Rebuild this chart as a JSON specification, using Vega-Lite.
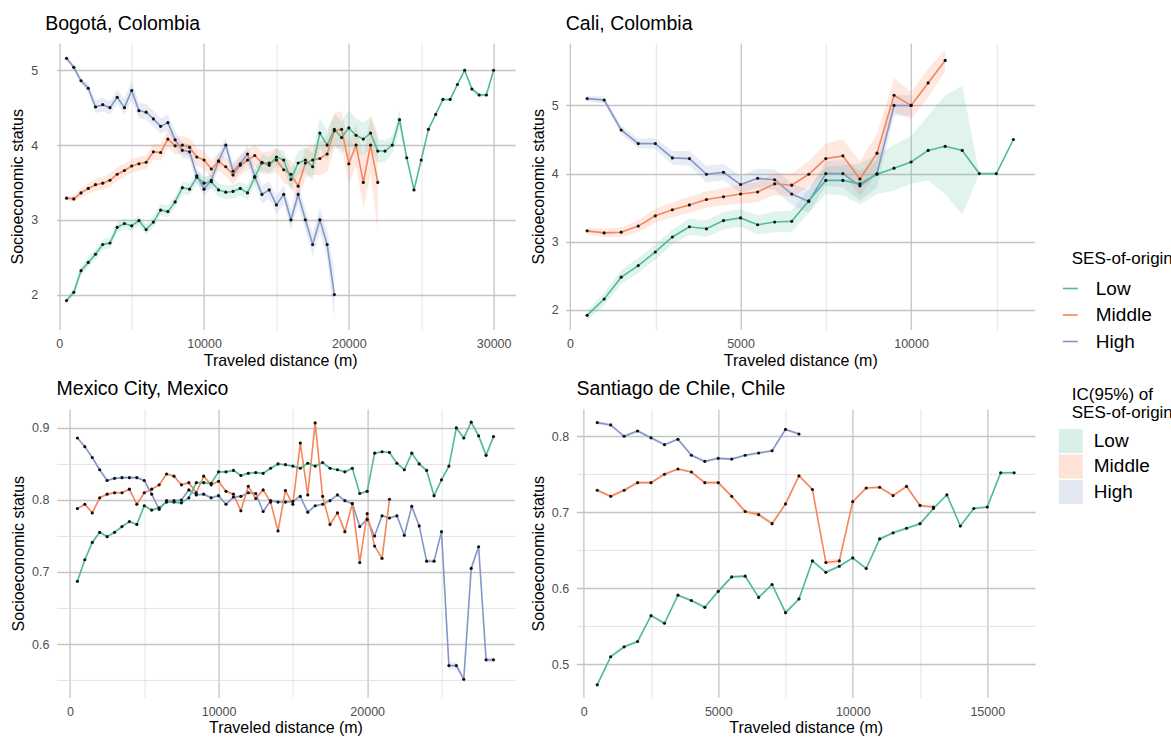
{
"$schema": "https://vega.github.io/schema/vega-lite/v6.json",
"padding": {"left": 9.6, "top": 13, "right": 0, "bottom": 0},
"background": "white",
"config": {
 "view": {"stroke": null},
 "font": "Liberation Sans",
 "axis": {"domain": false, "ticks": false, "labelFont": "Liberation Sans", "labelFontSize": 12.5, "labelColor": "#4d4d4d", "titleFont": "Liberation Sans", "titleFontSize": 16, "titleFontWeight": "normal", "titleColor": "black", "labelFlush": false, "labelOverlap": false},
 "axisX": {"labelPadding": 8, "titlePadding": 2},
 "axisY": {"labelPadding": 7.7, "titlePadding": 5},
 "title": {"anchor": "start", "frame": "group", "fontSize": 19.5, "fontWeight": "normal", "font": "Liberation Sans", "color": "black", "offset": 9},
 "legend": {"titleFont": "Liberation Sans", "titleFontSize": 17, "titleFontWeight": "normal", "titleColor": "black", "labelFont": "Liberation Sans", "labelFontSize": 19, "labelColor": "black"}
},
"datasets": {
"bog": [
{"s":"High","x":500,"y":5.16,"lo":5.13,"hi":5.19},
{"s":"High","x":1000,"y":5.04,"lo":5.00,"hi":5.08},
{"s":"High","x":1500,"y":4.86,"lo":4.82,"hi":4.90},
{"s":"High","x":2000,"y":4.76,"lo":4.70,"hi":4.82},
{"s":"High","x":2500,"y":4.51,"lo":4.43,"hi":4.60},
{"s":"High","x":3000,"y":4.54,"lo":4.45,"hi":4.63},
{"s":"High","x":3500,"y":4.50,"lo":4.41,"hi":4.59},
{"s":"High","x":4000,"y":4.64,"lo":4.55,"hi":4.74},
{"s":"High","x":4500,"y":4.50,"lo":4.40,"hi":4.62},
{"s":"High","x":5000,"y":4.73,"lo":4.60,"hi":4.86},
{"s":"High","x":5500,"y":4.46,"lo":4.36,"hi":4.57},
{"s":"High","x":6000,"y":4.44,"lo":4.34,"hi":4.55},
{"s":"High","x":6500,"y":4.35,"lo":4.25,"hi":4.46},
{"s":"High","x":7000,"y":4.25,"lo":4.15,"hi":4.36},
{"s":"High","x":7500,"y":4.30,"lo":4.19,"hi":4.41},
{"s":"High","x":8000,"y":4.07,"lo":3.97,"hi":4.18},
{"s":"High","x":8500,"y":3.93,"lo":3.83,"hi":4.03},
{"s":"High","x":9000,"y":3.91,"lo":3.81,"hi":4.01},
{"s":"High","x":9500,"y":3.59,"lo":3.49,"hi":3.70},
{"s":"High","x":10000,"y":3.41,"lo":3.32,"hi":3.51},
{"s":"High","x":10500,"y":3.53,"lo":3.43,"hi":3.63},
{"s":"High","x":11000,"y":3.79,"lo":3.68,"hi":3.90},
{"s":"High","x":11500,"y":4.00,"lo":3.88,"hi":4.10},
{"s":"High","x":12000,"y":3.65,"lo":3.54,"hi":3.76},
{"s":"High","x":12500,"y":3.75,"lo":3.64,"hi":3.86},
{"s":"High","x":13000,"y":3.88,"lo":3.76,"hi":3.99},
{"s":"High","x":13500,"y":3.58,"lo":3.47,"hi":3.70},
{"s":"High","x":14000,"y":3.34,"lo":3.22,"hi":3.46},
{"s":"High","x":14500,"y":3.40,"lo":3.28,"hi":3.52},
{"s":"High","x":15000,"y":3.20,"lo":3.08,"hi":3.32},
{"s":"High","x":15500,"y":3.34,"lo":3.21,"hi":3.47},
{"s":"High","x":16000,"y":3.00,"lo":2.87,"hi":3.13},
{"s":"High","x":16500,"y":3.34,"lo":3.20,"hi":3.48},
{"s":"High","x":17000,"y":3.00,"lo":2.86,"hi":3.14},
{"s":"High","x":17500,"y":2.67,"lo":2.52,"hi":2.82},
{"s":"High","x":18000,"y":3.00,"lo":2.84,"hi":3.16},
{"s":"High","x":18500,"y":2.67,"lo":2.48,"hi":2.86},
{"s":"High","x":19000,"y":2.00,"lo":1.68,"hi":2.32},
{"s":"Middle","x":500,"y":3.29,"lo":3.26,"hi":3.32},
{"s":"Middle","x":1000,"y":3.28,"lo":3.24,"hi":3.32},
{"s":"Middle","x":1500,"y":3.36,"lo":3.30,"hi":3.42},
{"s":"Middle","x":2000,"y":3.42,"lo":3.35,"hi":3.49},
{"s":"Middle","x":2500,"y":3.47,"lo":3.39,"hi":3.55},
{"s":"Middle","x":3000,"y":3.49,"lo":3.40,"hi":3.58},
{"s":"Middle","x":3500,"y":3.53,"lo":3.44,"hi":3.62},
{"s":"Middle","x":4000,"y":3.61,"lo":3.52,"hi":3.70},
{"s":"Middle","x":4500,"y":3.66,"lo":3.57,"hi":3.75},
{"s":"Middle","x":5000,"y":3.72,"lo":3.63,"hi":3.81},
{"s":"Middle","x":5500,"y":3.75,"lo":3.66,"hi":3.84},
{"s":"Middle","x":6000,"y":3.77,"lo":3.68,"hi":3.86},
{"s":"Middle","x":6500,"y":3.91,"lo":3.81,"hi":4.01},
{"s":"Middle","x":7000,"y":3.90,"lo":3.79,"hi":4.01},
{"s":"Middle","x":7500,"y":4.08,"lo":3.96,"hi":4.20},
{"s":"Middle","x":8000,"y":3.99,"lo":3.87,"hi":4.11},
{"s":"Middle","x":8500,"y":4.00,"lo":3.88,"hi":4.12},
{"s":"Middle","x":9000,"y":3.97,"lo":3.85,"hi":4.09},
{"s":"Middle","x":9500,"y":3.84,"lo":3.72,"hi":3.96},
{"s":"Middle","x":10000,"y":3.80,"lo":3.68,"hi":3.92},
{"s":"Middle","x":10500,"y":3.68,"lo":3.56,"hi":3.80},
{"s":"Middle","x":11000,"y":3.78,"lo":3.66,"hi":3.90},
{"s":"Middle","x":11500,"y":3.71,"lo":3.58,"hi":3.84},
{"s":"Middle","x":12000,"y":3.60,"lo":3.47,"hi":3.73},
{"s":"Middle","x":12500,"y":3.73,"lo":3.60,"hi":3.86},
{"s":"Middle","x":13000,"y":3.80,"lo":3.66,"hi":3.94},
{"s":"Middle","x":13500,"y":3.86,"lo":3.72,"hi":4.00},
{"s":"Middle","x":14000,"y":3.76,"lo":3.61,"hi":3.91},
{"s":"Middle","x":14500,"y":3.76,"lo":3.61,"hi":3.91},
{"s":"Middle","x":15000,"y":3.80,"lo":3.64,"hi":3.96},
{"s":"Middle","x":15500,"y":3.67,"lo":3.50,"hi":3.84},
{"s":"Middle","x":16000,"y":3.61,"lo":3.43,"hi":3.79},
{"s":"Middle","x":16500,"y":3.45,"lo":3.25,"hi":3.65},
{"s":"Middle","x":17000,"y":3.76,"lo":3.56,"hi":3.96},
{"s":"Middle","x":17500,"y":3.80,"lo":3.60,"hi":4.00},
{"s":"Middle","x":18000,"y":3.82,"lo":3.60,"hi":4.04},
{"s":"Middle","x":18500,"y":3.88,"lo":3.64,"hi":4.12},
{"s":"Middle","x":19000,"y":4.19,"lo":3.95,"hi":4.43},
{"s":"Middle","x":19500,"y":4.21,"lo":3.97,"hi":4.45},
{"s":"Middle","x":20000,"y":3.75,"lo":3.48,"hi":4.02},
{"s":"Middle","x":20500,"y":4.00,"lo":3.72,"hi":4.28},
{"s":"Middle","x":21000,"y":3.50,"lo":3.15,"hi":3.85},
{"s":"Middle","x":21500,"y":4.00,"lo":3.60,"hi":4.40},
{"s":"Middle","x":22000,"y":3.50,"lo":2.85,"hi":4.15},
{"s":"Low","x":500,"y":1.92,"lo":1.88,"hi":1.96},
{"s":"Low","x":1000,"y":2.03,"lo":1.98,"hi":2.08},
{"s":"Low","x":1500,"y":2.32,"lo":2.26,"hi":2.38},
{"s":"Low","x":2000,"y":2.43,"lo":2.37,"hi":2.50},
{"s":"Low","x":2500,"y":2.54,"lo":2.47,"hi":2.61},
{"s":"Low","x":3000,"y":2.67,"lo":2.60,"hi":2.74},
{"s":"Low","x":3500,"y":2.69,"lo":2.62,"hi":2.76},
{"s":"Low","x":4000,"y":2.90,"lo":2.83,"hi":2.97},
{"s":"Low","x":4500,"y":2.95,"lo":2.88,"hi":3.02},
{"s":"Low","x":5000,"y":2.92,"lo":2.85,"hi":2.99},
{"s":"Low","x":5500,"y":2.99,"lo":2.92,"hi":3.06},
{"s":"Low","x":6000,"y":2.87,"lo":2.80,"hi":2.94},
{"s":"Low","x":6500,"y":2.97,"lo":2.90,"hi":3.04},
{"s":"Low","x":7000,"y":3.13,"lo":3.06,"hi":3.21},
{"s":"Low","x":7500,"y":3.11,"lo":3.03,"hi":3.19},
{"s":"Low","x":8000,"y":3.24,"lo":3.16,"hi":3.32},
{"s":"Low","x":8500,"y":3.43,"lo":3.35,"hi":3.51},
{"s":"Low","x":9000,"y":3.41,"lo":3.33,"hi":3.49},
{"s":"Low","x":9500,"y":3.57,"lo":3.48,"hi":3.66},
{"s":"Low","x":10000,"y":3.49,"lo":3.40,"hi":3.58},
{"s":"Low","x":10500,"y":3.51,"lo":3.42,"hi":3.60},
{"s":"Low","x":11000,"y":3.40,"lo":3.31,"hi":3.49},
{"s":"Low","x":11500,"y":3.37,"lo":3.28,"hi":3.46},
{"s":"Low","x":12000,"y":3.38,"lo":3.29,"hi":3.47},
{"s":"Low","x":12500,"y":3.42,"lo":3.33,"hi":3.51},
{"s":"Low","x":13000,"y":3.36,"lo":3.27,"hi":3.46},
{"s":"Low","x":13500,"y":3.57,"lo":3.47,"hi":3.67},
{"s":"Low","x":14000,"y":3.77,"lo":3.66,"hi":3.88},
{"s":"Low","x":14500,"y":3.73,"lo":3.62,"hi":3.84},
{"s":"Low","x":15000,"y":3.84,"lo":3.72,"hi":3.96},
{"s":"Low","x":15500,"y":3.80,"lo":3.67,"hi":3.93},
{"s":"Low","x":16000,"y":3.54,"lo":3.40,"hi":3.68},
{"s":"Low","x":16500,"y":3.76,"lo":3.60,"hi":3.92},
{"s":"Low","x":17000,"y":3.80,"lo":3.63,"hi":3.97},
{"s":"Low","x":17500,"y":3.71,"lo":3.53,"hi":3.89},
{"s":"Low","x":18000,"y":4.16,"lo":3.96,"hi":4.36},
{"s":"Low","x":18500,"y":4.00,"lo":3.80,"hi":4.20},
{"s":"Low","x":19000,"y":4.21,"lo":4.00,"hi":4.42},
{"s":"Low","x":19500,"y":4.10,"lo":3.88,"hi":4.32},
{"s":"Low","x":20000,"y":4.23,"lo":4.00,"hi":4.46},
{"s":"Low","x":20500,"y":4.13,"lo":3.90,"hi":4.36},
{"s":"Low","x":21000,"y":4.08,"lo":3.86,"hi":4.30},
{"s":"Low","x":21500,"y":4.16,"lo":3.94,"hi":4.38},
{"s":"Low","x":22000,"y":3.92,"lo":3.76,"hi":4.08},
{"s":"Low","x":22500,"y":3.92,"lo":3.78,"hi":4.06},
{"s":"Low","x":23000,"y":4.00,"lo":3.88,"hi":4.12},
{"s":"Low","x":23500,"y":4.34,"lo":4.22,"hi":4.46},
{"s":"Low","x":24000,"y":3.83,"lo":3.80,"hi":3.86},
{"s":"Low","x":24500,"y":3.40,"lo":3.38,"hi":3.42},
{"s":"Low","x":25000,"y":3.80,"lo":3.78,"hi":3.82},
{"s":"Low","x":25500,"y":4.21,"lo":4.19,"hi":4.23},
{"s":"Low","x":26000,"y":4.41,"lo":4.39,"hi":4.43},
{"s":"Low","x":26500,"y":4.61,"lo":4.59,"hi":4.63},
{"s":"Low","x":27000,"y":4.61,"lo":4.59,"hi":4.63},
{"s":"Low","x":27500,"y":4.81,"lo":4.79,"hi":4.83},
{"s":"Low","x":28000,"y":5.00,"lo":4.98,"hi":5.02},
{"s":"Low","x":28500,"y":4.75,"lo":4.72,"hi":4.78},
{"s":"Low","x":29000,"y":4.67,"lo":4.64,"hi":4.70},
{"s":"Low","x":29500,"y":4.67,"lo":4.64,"hi":4.70},
{"s":"Low","x":30000,"y":5.00,"lo":4.98,"hi":5.02}
],
"cal": [
{"s":"High","x":500,"y":5.10,"lo":5.06,"hi":5.14},
{"s":"High","x":1000,"y":5.08,"lo":5.03,"hi":5.13},
{"s":"High","x":1500,"y":4.64,"lo":4.58,"hi":4.70},
{"s":"High","x":2000,"y":4.44,"lo":4.37,"hi":4.51},
{"s":"High","x":2500,"y":4.44,"lo":4.36,"hi":4.52},
{"s":"High","x":3000,"y":4.23,"lo":4.13,"hi":4.33},
{"s":"High","x":3500,"y":4.22,"lo":4.11,"hi":4.33},
{"s":"High","x":4000,"y":3.99,"lo":3.87,"hi":4.11},
{"s":"High","x":4500,"y":4.02,"lo":3.90,"hi":4.14},
{"s":"High","x":5000,"y":3.84,"lo":3.71,"hi":3.97},
{"s":"High","x":5500,"y":3.93,"lo":3.79,"hi":4.07},
{"s":"High","x":6000,"y":3.91,"lo":3.76,"hi":4.06},
{"s":"High","x":6500,"y":3.70,"lo":3.54,"hi":3.86},
{"s":"High","x":7000,"y":3.59,"lo":3.42,"hi":3.76},
{"s":"High","x":7500,"y":4.00,"lo":3.82,"hi":4.18},
{"s":"High","x":8000,"y":4.00,"lo":3.80,"hi":4.20},
{"s":"High","x":8500,"y":3.82,"lo":3.60,"hi":4.04},
{"s":"High","x":9000,"y":4.00,"lo":3.80,"hi":4.20},
{"s":"High","x":9500,"y":5.00,"lo":4.85,"hi":5.15},
{"s":"High","x":10000,"y":5.00,"lo":4.85,"hi":5.15},
{"s":"Middle","x":500,"y":3.16,"lo":3.11,"hi":3.21},
{"s":"Middle","x":1000,"y":3.13,"lo":3.07,"hi":3.19},
{"s":"Middle","x":1500,"y":3.14,"lo":3.07,"hi":3.21},
{"s":"Middle","x":2000,"y":3.23,"lo":3.14,"hi":3.32},
{"s":"Middle","x":2500,"y":3.38,"lo":3.28,"hi":3.48},
{"s":"Middle","x":3000,"y":3.47,"lo":3.36,"hi":3.58},
{"s":"Middle","x":3500,"y":3.54,"lo":3.42,"hi":3.66},
{"s":"Middle","x":4000,"y":3.62,"lo":3.50,"hi":3.74},
{"s":"Middle","x":4500,"y":3.66,"lo":3.53,"hi":3.79},
{"s":"Middle","x":5000,"y":3.70,"lo":3.56,"hi":3.84},
{"s":"Middle","x":5500,"y":3.73,"lo":3.58,"hi":3.88},
{"s":"Middle","x":6000,"y":3.85,"lo":3.69,"hi":4.01},
{"s":"Middle","x":6500,"y":3.83,"lo":3.66,"hi":4.00},
{"s":"Middle","x":7000,"y":3.99,"lo":3.80,"hi":4.18},
{"s":"Middle","x":7500,"y":4.22,"lo":4.00,"hi":4.44},
{"s":"Middle","x":8000,"y":4.26,"lo":4.02,"hi":4.50},
{"s":"Middle","x":8500,"y":3.92,"lo":3.66,"hi":4.18},
{"s":"Middle","x":9000,"y":4.30,"lo":4.02,"hi":4.58},
{"s":"Middle","x":9500,"y":5.15,"lo":4.90,"hi":5.40},
{"s":"Middle","x":10000,"y":5.00,"lo":4.80,"hi":5.20},
{"s":"Middle","x":10500,"y":5.33,"lo":5.12,"hi":5.54},
{"s":"Middle","x":11000,"y":5.66,"lo":5.50,"hi":5.82},
{"s":"Low","x":500,"y":1.92,"lo":1.85,"hi":1.99},
{"s":"Low","x":1000,"y":2.16,"lo":2.07,"hi":2.25},
{"s":"Low","x":1500,"y":2.48,"lo":2.38,"hi":2.58},
{"s":"Low","x":2000,"y":2.65,"lo":2.54,"hi":2.76},
{"s":"Low","x":2500,"y":2.85,"lo":2.74,"hi":2.96},
{"s":"Low","x":3000,"y":3.07,"lo":2.96,"hi":3.18},
{"s":"Low","x":3500,"y":3.22,"lo":3.10,"hi":3.34},
{"s":"Low","x":4000,"y":3.19,"lo":3.07,"hi":3.31},
{"s":"Low","x":4500,"y":3.31,"lo":3.18,"hi":3.44},
{"s":"Low","x":5000,"y":3.35,"lo":3.22,"hi":3.48},
{"s":"Low","x":5500,"y":3.25,"lo":3.11,"hi":3.39},
{"s":"Low","x":6000,"y":3.29,"lo":3.14,"hi":3.44},
{"s":"Low","x":6500,"y":3.30,"lo":3.14,"hi":3.46},
{"s":"Low","x":7000,"y":3.60,"lo":3.42,"hi":3.78},
{"s":"Low","x":7500,"y":3.90,"lo":3.70,"hi":4.10},
{"s":"Low","x":8000,"y":3.90,"lo":3.68,"hi":4.12},
{"s":"Low","x":8500,"y":3.85,"lo":3.55,"hi":4.15},
{"s":"Low","x":9000,"y":3.99,"lo":3.70,"hi":4.28},
{"s":"Low","x":9500,"y":4.08,"lo":3.75,"hi":4.42},
{"s":"Low","x":10000,"y":4.17,"lo":3.85,"hi":4.55},
{"s":"Low","x":10500,"y":4.34,"lo":3.90,"hi":4.85},
{"s":"Low","x":11000,"y":4.40,"lo":3.70,"hi":5.15},
{"s":"Low","x":11500,"y":4.34,"lo":3.40,"hi":5.28},
{"s":"Low","x":12000,"y":4.00,"lo":4.00,"hi":4.00},
{"s":"Low","x":12500,"y":4.00,"lo":4.00,"hi":4.00},
{"s":"Low","x":13000,"y":4.50,"lo":4.50,"hi":4.50}
],
"mex": [
{"s":"High","x":500,"y":0.886,"lo":0.884,"hi":0.888},
{"s":"High","x":1000,"y":0.874,"lo":0.872,"hi":0.876},
{"s":"High","x":1500,"y":0.859,"lo":0.857,"hi":0.861},
{"s":"High","x":2000,"y":0.842,"lo":0.840,"hi":0.844},
{"s":"High","x":2500,"y":0.827,"lo":0.825,"hi":0.829},
{"s":"High","x":3000,"y":0.830,"lo":0.828,"hi":0.832},
{"s":"High","x":3500,"y":0.831,"lo":0.829,"hi":0.833},
{"s":"High","x":4000,"y":0.831,"lo":0.829,"hi":0.833},
{"s":"High","x":4500,"y":0.831,"lo":0.829,"hi":0.833},
{"s":"High","x":5000,"y":0.827,"lo":0.825,"hi":0.829},
{"s":"High","x":5500,"y":0.808,"lo":0.806,"hi":0.810},
{"s":"High","x":6000,"y":0.787,"lo":0.785,"hi":0.789},
{"s":"High","x":6500,"y":0.799,"lo":0.797,"hi":0.801},
{"s":"High","x":7000,"y":0.799,"lo":0.797,"hi":0.801},
{"s":"High","x":7500,"y":0.800,"lo":0.798,"hi":0.802},
{"s":"High","x":8000,"y":0.814,"lo":0.812,"hi":0.816},
{"s":"High","x":8500,"y":0.807,"lo":0.805,"hi":0.809},
{"s":"High","x":9000,"y":0.808,"lo":0.806,"hi":0.810},
{"s":"High","x":9500,"y":0.803,"lo":0.801,"hi":0.805},
{"s":"High","x":10000,"y":0.806,"lo":0.804,"hi":0.808},
{"s":"High","x":10500,"y":0.794,"lo":0.792,"hi":0.796},
{"s":"High","x":11000,"y":0.804,"lo":0.802,"hi":0.806},
{"s":"High","x":11500,"y":0.805,"lo":0.803,"hi":0.807},
{"s":"High","x":12000,"y":0.810,"lo":0.808,"hi":0.812},
{"s":"High","x":12500,"y":0.809,"lo":0.807,"hi":0.811},
{"s":"High","x":13000,"y":0.784,"lo":0.782,"hi":0.786},
{"s":"High","x":13500,"y":0.799,"lo":0.797,"hi":0.801},
{"s":"High","x":14000,"y":0.797,"lo":0.795,"hi":0.799},
{"s":"High","x":14500,"y":0.797,"lo":0.795,"hi":0.799},
{"s":"High","x":15000,"y":0.798,"lo":0.796,"hi":0.800},
{"s":"High","x":15500,"y":0.805,"lo":0.803,"hi":0.807},
{"s":"High","x":16000,"y":0.783,"lo":0.781,"hi":0.785},
{"s":"High","x":16500,"y":0.792,"lo":0.790,"hi":0.794},
{"s":"High","x":17000,"y":0.794,"lo":0.792,"hi":0.796},
{"s":"High","x":17500,"y":0.799,"lo":0.797,"hi":0.801},
{"s":"High","x":18000,"y":0.807,"lo":0.805,"hi":0.809},
{"s":"High","x":18500,"y":0.799,"lo":0.797,"hi":0.801},
{"s":"High","x":19000,"y":0.795,"lo":0.793,"hi":0.797},
{"s":"High","x":19500,"y":0.763,"lo":0.761,"hi":0.765},
{"s":"High","x":20000,"y":0.773,"lo":0.771,"hi":0.775},
{"s":"High","x":20500,"y":0.750,"lo":0.748,"hi":0.752},
{"s":"High","x":21000,"y":0.778,"lo":0.776,"hi":0.780},
{"s":"High","x":21500,"y":0.775,"lo":0.773,"hi":0.777},
{"s":"High","x":22000,"y":0.778,"lo":0.776,"hi":0.780},
{"s":"High","x":22500,"y":0.751,"lo":0.749,"hi":0.753},
{"s":"High","x":23000,"y":0.791,"lo":0.789,"hi":0.793},
{"s":"High","x":23500,"y":0.764,"lo":0.762,"hi":0.766},
{"s":"High","x":24000,"y":0.715,"lo":0.712,"hi":0.718},
{"s":"High","x":24500,"y":0.715,"lo":0.712,"hi":0.718},
{"s":"High","x":25000,"y":0.756,"lo":0.753,"hi":0.759},
{"s":"High","x":25500,"y":0.570,"lo":0.565,"hi":0.575},
{"s":"High","x":26000,"y":0.570,"lo":0.565,"hi":0.575},
{"s":"High","x":26500,"y":0.551,"lo":0.547,"hi":0.555},
{"s":"High","x":27000,"y":0.705,"lo":0.701,"hi":0.709},
{"s":"High","x":27500,"y":0.735,"lo":0.731,"hi":0.739},
{"s":"High","x":28000,"y":0.578,"lo":0.574,"hi":0.582},
{"s":"High","x":28500,"y":0.578,"lo":0.574,"hi":0.582},
{"s":"Middle","x":500,"y":0.788,"lo":0.786,"hi":0.790},
{"s":"Middle","x":1000,"y":0.794,"lo":0.792,"hi":0.796},
{"s":"Middle","x":1500,"y":0.782,"lo":0.780,"hi":0.784},
{"s":"Middle","x":2000,"y":0.803,"lo":0.801,"hi":0.805},
{"s":"Middle","x":2500,"y":0.808,"lo":0.806,"hi":0.810},
{"s":"Middle","x":3000,"y":0.810,"lo":0.808,"hi":0.812},
{"s":"Middle","x":3500,"y":0.810,"lo":0.808,"hi":0.812},
{"s":"Middle","x":4000,"y":0.815,"lo":0.813,"hi":0.817},
{"s":"Middle","x":4500,"y":0.794,"lo":0.792,"hi":0.796},
{"s":"Middle","x":5000,"y":0.810,"lo":0.808,"hi":0.812},
{"s":"Middle","x":5500,"y":0.815,"lo":0.813,"hi":0.817},
{"s":"Middle","x":6000,"y":0.821,"lo":0.819,"hi":0.823},
{"s":"Middle","x":6500,"y":0.836,"lo":0.834,"hi":0.838},
{"s":"Middle","x":7000,"y":0.833,"lo":0.831,"hi":0.835},
{"s":"Middle","x":7500,"y":0.821,"lo":0.819,"hi":0.823},
{"s":"Middle","x":8000,"y":0.824,"lo":0.822,"hi":0.826},
{"s":"Middle","x":8500,"y":0.810,"lo":0.808,"hi":0.812},
{"s":"Middle","x":9000,"y":0.833,"lo":0.831,"hi":0.835},
{"s":"Middle","x":9500,"y":0.821,"lo":0.819,"hi":0.823},
{"s":"Middle","x":10000,"y":0.826,"lo":0.824,"hi":0.828},
{"s":"Middle","x":10500,"y":0.812,"lo":0.810,"hi":0.814},
{"s":"Middle","x":11000,"y":0.808,"lo":0.806,"hi":0.810},
{"s":"Middle","x":11500,"y":0.785,"lo":0.783,"hi":0.787},
{"s":"Middle","x":12000,"y":0.819,"lo":0.817,"hi":0.821},
{"s":"Middle","x":12500,"y":0.802,"lo":0.800,"hi":0.804},
{"s":"Middle","x":13000,"y":0.814,"lo":0.812,"hi":0.816},
{"s":"Middle","x":13500,"y":0.797,"lo":0.795,"hi":0.799},
{"s":"Middle","x":14000,"y":0.757,"lo":0.755,"hi":0.759},
{"s":"Middle","x":14500,"y":0.813,"lo":0.811,"hi":0.815},
{"s":"Middle","x":15000,"y":0.794,"lo":0.792,"hi":0.796},
{"s":"Middle","x":15500,"y":0.879,"lo":0.877,"hi":0.881},
{"s":"Middle","x":16000,"y":0.807,"lo":0.805,"hi":0.809},
{"s":"Middle","x":16500,"y":0.907,"lo":0.905,"hi":0.909},
{"s":"Middle","x":17000,"y":0.805,"lo":0.803,"hi":0.807},
{"s":"Middle","x":17500,"y":0.766,"lo":0.764,"hi":0.768},
{"s":"Middle","x":18000,"y":0.782,"lo":0.780,"hi":0.784},
{"s":"Middle","x":18500,"y":0.756,"lo":0.754,"hi":0.758},
{"s":"Middle","x":19000,"y":0.795,"lo":0.793,"hi":0.797},
{"s":"Middle","x":19500,"y":0.713,"lo":0.711,"hi":0.715},
{"s":"Middle","x":20000,"y":0.781,"lo":0.779,"hi":0.783},
{"s":"Middle","x":20500,"y":0.736,"lo":0.734,"hi":0.738},
{"s":"Middle","x":21000,"y":0.719,"lo":0.717,"hi":0.721},
{"s":"Middle","x":21500,"y":0.801,"lo":0.799,"hi":0.803},
{"s":"Low","x":500,"y":0.687,"lo":0.685,"hi":0.689},
{"s":"Low","x":1000,"y":0.717,"lo":0.715,"hi":0.719},
{"s":"Low","x":1500,"y":0.741,"lo":0.739,"hi":0.743},
{"s":"Low","x":2000,"y":0.755,"lo":0.753,"hi":0.757},
{"s":"Low","x":2500,"y":0.749,"lo":0.747,"hi":0.751},
{"s":"Low","x":3000,"y":0.755,"lo":0.753,"hi":0.757},
{"s":"Low","x":3500,"y":0.763,"lo":0.761,"hi":0.765},
{"s":"Low","x":4000,"y":0.770,"lo":0.768,"hi":0.772},
{"s":"Low","x":4500,"y":0.766,"lo":0.764,"hi":0.768},
{"s":"Low","x":5000,"y":0.792,"lo":0.790,"hi":0.794},
{"s":"Low","x":5500,"y":0.786,"lo":0.784,"hi":0.788},
{"s":"Low","x":6000,"y":0.789,"lo":0.787,"hi":0.791},
{"s":"Low","x":6500,"y":0.797,"lo":0.795,"hi":0.799},
{"s":"Low","x":7000,"y":0.797,"lo":0.795,"hi":0.799},
{"s":"Low","x":7500,"y":0.796,"lo":0.794,"hi":0.798},
{"s":"Low","x":8000,"y":0.803,"lo":0.801,"hi":0.805},
{"s":"Low","x":8500,"y":0.824,"lo":0.822,"hi":0.826},
{"s":"Low","x":9000,"y":0.824,"lo":0.822,"hi":0.826},
{"s":"Low","x":9500,"y":0.823,"lo":0.821,"hi":0.825},
{"s":"Low","x":10000,"y":0.839,"lo":0.837,"hi":0.841},
{"s":"Low","x":10500,"y":0.839,"lo":0.837,"hi":0.841},
{"s":"Low","x":11000,"y":0.841,"lo":0.839,"hi":0.843},
{"s":"Low","x":11500,"y":0.834,"lo":0.832,"hi":0.836},
{"s":"Low","x":12000,"y":0.837,"lo":0.835,"hi":0.839},
{"s":"Low","x":12500,"y":0.838,"lo":0.836,"hi":0.840},
{"s":"Low","x":13000,"y":0.837,"lo":0.835,"hi":0.839},
{"s":"Low","x":13500,"y":0.844,"lo":0.842,"hi":0.846},
{"s":"Low","x":14000,"y":0.850,"lo":0.848,"hi":0.852},
{"s":"Low","x":14500,"y":0.849,"lo":0.847,"hi":0.851},
{"s":"Low","x":15000,"y":0.847,"lo":0.845,"hi":0.849},
{"s":"Low","x":15500,"y":0.844,"lo":0.842,"hi":0.846},
{"s":"Low","x":16000,"y":0.851,"lo":0.849,"hi":0.853},
{"s":"Low","x":16500,"y":0.847,"lo":0.845,"hi":0.849},
{"s":"Low","x":17000,"y":0.852,"lo":0.850,"hi":0.854},
{"s":"Low","x":17500,"y":0.844,"lo":0.842,"hi":0.846},
{"s":"Low","x":18000,"y":0.842,"lo":0.840,"hi":0.844},
{"s":"Low","x":18500,"y":0.839,"lo":0.837,"hi":0.841},
{"s":"Low","x":19000,"y":0.844,"lo":0.842,"hi":0.846},
{"s":"Low","x":19500,"y":0.809,"lo":0.807,"hi":0.811},
{"s":"Low","x":20000,"y":0.812,"lo":0.810,"hi":0.814},
{"s":"Low","x":20500,"y":0.865,"lo":0.863,"hi":0.867},
{"s":"Low","x":21000,"y":0.867,"lo":0.865,"hi":0.869},
{"s":"Low","x":21500,"y":0.866,"lo":0.864,"hi":0.868},
{"s":"Low","x":22000,"y":0.851,"lo":0.849,"hi":0.853},
{"s":"Low","x":22500,"y":0.842,"lo":0.840,"hi":0.844},
{"s":"Low","x":23000,"y":0.865,"lo":0.863,"hi":0.867},
{"s":"Low","x":23500,"y":0.850,"lo":0.848,"hi":0.852},
{"s":"Low","x":24000,"y":0.841,"lo":0.839,"hi":0.843},
{"s":"Low","x":24500,"y":0.806,"lo":0.804,"hi":0.808},
{"s":"Low","x":25000,"y":0.828,"lo":0.826,"hi":0.830},
{"s":"Low","x":25500,"y":0.847,"lo":0.845,"hi":0.849},
{"s":"Low","x":26000,"y":0.900,"lo":0.897,"hi":0.903},
{"s":"Low","x":26500,"y":0.886,"lo":0.883,"hi":0.889},
{"s":"Low","x":27000,"y":0.908,"lo":0.905,"hi":0.911},
{"s":"Low","x":27500,"y":0.889,"lo":0.886,"hi":0.892},
{"s":"Low","x":28000,"y":0.862,"lo":0.859,"hi":0.865},
{"s":"Low","x":28500,"y":0.888,"lo":0.885,"hi":0.891}
],
"san": [
{"s":"High","x":500,"y":0.818,"lo":0.816,"hi":0.820},
{"s":"High","x":1000,"y":0.815,"lo":0.813,"hi":0.817},
{"s":"High","x":1500,"y":0.800,"lo":0.798,"hi":0.802},
{"s":"High","x":2000,"y":0.807,"lo":0.805,"hi":0.809},
{"s":"High","x":2500,"y":0.798,"lo":0.796,"hi":0.800},
{"s":"High","x":3000,"y":0.789,"lo":0.787,"hi":0.791},
{"s":"High","x":3500,"y":0.796,"lo":0.794,"hi":0.798},
{"s":"High","x":4000,"y":0.775,"lo":0.773,"hi":0.777},
{"s":"High","x":4500,"y":0.767,"lo":0.765,"hi":0.769},
{"s":"High","x":5000,"y":0.771,"lo":0.769,"hi":0.773},
{"s":"High","x":5500,"y":0.770,"lo":0.768,"hi":0.772},
{"s":"High","x":6000,"y":0.775,"lo":0.773,"hi":0.777},
{"s":"High","x":6500,"y":0.778,"lo":0.776,"hi":0.780},
{"s":"High","x":7000,"y":0.781,"lo":0.779,"hi":0.783},
{"s":"High","x":7500,"y":0.809,"lo":0.807,"hi":0.811},
{"s":"High","x":8000,"y":0.803,"lo":0.801,"hi":0.805},
{"s":"Middle","x":500,"y":0.729,"lo":0.727,"hi":0.731},
{"s":"Middle","x":1000,"y":0.721,"lo":0.719,"hi":0.723},
{"s":"Middle","x":1500,"y":0.729,"lo":0.727,"hi":0.731},
{"s":"Middle","x":2000,"y":0.739,"lo":0.737,"hi":0.741},
{"s":"Middle","x":2500,"y":0.739,"lo":0.737,"hi":0.741},
{"s":"Middle","x":3000,"y":0.750,"lo":0.748,"hi":0.752},
{"s":"Middle","x":3500,"y":0.757,"lo":0.755,"hi":0.759},
{"s":"Middle","x":4000,"y":0.753,"lo":0.751,"hi":0.755},
{"s":"Middle","x":4500,"y":0.739,"lo":0.737,"hi":0.741},
{"s":"Middle","x":5000,"y":0.739,"lo":0.737,"hi":0.741},
{"s":"Middle","x":5500,"y":0.721,"lo":0.719,"hi":0.723},
{"s":"Middle","x":6000,"y":0.701,"lo":0.698,"hi":0.704},
{"s":"Middle","x":6500,"y":0.697,"lo":0.694,"hi":0.700},
{"s":"Middle","x":7000,"y":0.685,"lo":0.682,"hi":0.688},
{"s":"Middle","x":7500,"y":0.711,"lo":0.709,"hi":0.713},
{"s":"Middle","x":8000,"y":0.748,"lo":0.746,"hi":0.750},
{"s":"Middle","x":8500,"y":0.730,"lo":0.728,"hi":0.732},
{"s":"Middle","x":9000,"y":0.634,"lo":0.630,"hi":0.638},
{"s":"Middle","x":9500,"y":0.636,"lo":0.632,"hi":0.640},
{"s":"Middle","x":10000,"y":0.714,"lo":0.712,"hi":0.716},
{"s":"Middle","x":10500,"y":0.732,"lo":0.730,"hi":0.734},
{"s":"Middle","x":11000,"y":0.733,"lo":0.731,"hi":0.735},
{"s":"Middle","x":11500,"y":0.722,"lo":0.720,"hi":0.724},
{"s":"Middle","x":12000,"y":0.734,"lo":0.732,"hi":0.736},
{"s":"Middle","x":12500,"y":0.709,"lo":0.707,"hi":0.711},
{"s":"Middle","x":13000,"y":0.707,"lo":0.705,"hi":0.709},
{"s":"Low","x":500,"y":0.473,"lo":0.471,"hi":0.475},
{"s":"Low","x":1000,"y":0.510,"lo":0.508,"hi":0.512},
{"s":"Low","x":1500,"y":0.523,"lo":0.521,"hi":0.525},
{"s":"Low","x":2000,"y":0.530,"lo":0.528,"hi":0.532},
{"s":"Low","x":2500,"y":0.564,"lo":0.562,"hi":0.566},
{"s":"Low","x":3000,"y":0.554,"lo":0.552,"hi":0.556},
{"s":"Low","x":3500,"y":0.591,"lo":0.589,"hi":0.593},
{"s":"Low","x":4000,"y":0.584,"lo":0.582,"hi":0.586},
{"s":"Low","x":4500,"y":0.575,"lo":0.573,"hi":0.577},
{"s":"Low","x":5000,"y":0.596,"lo":0.594,"hi":0.598},
{"s":"Low","x":5500,"y":0.615,"lo":0.613,"hi":0.617},
{"s":"Low","x":6000,"y":0.616,"lo":0.614,"hi":0.618},
{"s":"Low","x":6500,"y":0.588,"lo":0.586,"hi":0.590},
{"s":"Low","x":7000,"y":0.605,"lo":0.603,"hi":0.607},
{"s":"Low","x":7500,"y":0.568,"lo":0.565,"hi":0.571},
{"s":"Low","x":8000,"y":0.586,"lo":0.584,"hi":0.588},
{"s":"Low","x":8500,"y":0.636,"lo":0.634,"hi":0.638},
{"s":"Low","x":9000,"y":0.621,"lo":0.619,"hi":0.623},
{"s":"Low","x":9500,"y":0.629,"lo":0.627,"hi":0.631},
{"s":"Low","x":10000,"y":0.640,"lo":0.638,"hi":0.642},
{"s":"Low","x":10500,"y":0.626,"lo":0.624,"hi":0.628},
{"s":"Low","x":11000,"y":0.665,"lo":0.663,"hi":0.667},
{"s":"Low","x":11500,"y":0.673,"lo":0.671,"hi":0.675},
{"s":"Low","x":12000,"y":0.679,"lo":0.677,"hi":0.681},
{"s":"Low","x":12500,"y":0.685,"lo":0.683,"hi":0.687},
{"s":"Low","x":13000,"y":0.705,"lo":0.703,"hi":0.707},
{"s":"Low","x":13500,"y":0.723,"lo":0.721,"hi":0.725},
{"s":"Low","x":14000,"y":0.682,"lo":0.680,"hi":0.684},
{"s":"Low","x":14500,"y":0.705,"lo":0.703,"hi":0.707},
{"s":"Low","x":15000,"y":0.707,"lo":0.705,"hi":0.709},
{"s":"Low","x":15500,"y":0.752,"lo":0.750,"hi":0.754},
{"s":"Low","x":16000,"y":0.752,"lo":0.750,"hi":0.754}
]
},
"spacing": 10,
"vconcat": [
{
"spacing": 14.2,
"hconcat": [
{
"width": 458.5, "height": 286.6,
"title": {"text": "Bogotá, Colombia", "dx": -11.4},
"data": {"name": "bog"},
"encoding": {
 "x": {"field": "x", "type": "quantitative", "title": "Traveled distance (m)", "scale": {"domain": [-186.5, 31485], "nice": false, "zero": false},
  "axis": {"values": [0, 5000, 10000, 15000, 20000, 25000, 30000], "format": "d", "titleX": 223.6, "labelExpr": "datum.value % 10000 === 0 ? datum.label : ''",
   "gridColor": {"condition": {"test": "datum.value % 10000 === 0", "value": "#c4c4c4"}, "value": "#dedede"},
   "gridWidth": {"condition": {"test": "datum.value % 10000 === 0", "value": 1.3}, "value": 0.8}}},
 "y": {"field": "y", "type": "quantitative", "title": "Socioeconomic status", "scale": {"domain": [1.532, 5.365], "nice": false, "zero": false},
  "axis": {"values": [2, 2.5, 3, 3.5, 4, 4.5, 5], "format": "d", "labelPadding": 19, "labelExpr": "datum.value % 1 === 0 ? datum.label : ''",
   "gridColor": {"condition": {"test": "datum.value % 1 === 0", "value": "#c4c4c4"}, "value": "#dedede"},
   "gridWidth": {"condition": {"test": "datum.value % 1 === 0", "value": 1.3}, "value": 0.8}}}
},
"layer": [
 {"mark": {"type": "area", "opacity": 0.2}, "encoding": {"y": {"field": "lo", "type": "quantitative", "title": "Socioeconomic status"}, "y2": {"field": "hi"},
  "fill": {"field": "s", "type": "nominal", "scale": {"domain": ["Low", "Middle", "High", "-"], "range": ["#66c2a5", "#fc8d62", "#8da0cb", "#ffffff"]},
   "legend": {"title": ["IC(95%) of", "SES-of-origin"], "values": ["Low", "Middle", "High"], "orient": "none", "legendX": 1015.2, "legendY": 344, "symbolType": "square", "symbolSize": 576, "symbolOpacity": 0.25, "symbolStrokeWidth": 0, "symbolOffset": -13, "labelOffset": 11, "rowPadding": 1.5, "titlePadding": 7, "titleLineHeight": 18}}}},
 {"mark": {"type": "line", "strokeWidth": 1.6}, "encoding": {
  "color": {"field": "s", "type": "nominal", "scale": {"domain": ["Low", "Middle", "High"], "range": ["#4fbb97", "#f7855c", "#8497c8"]},
   "legend": {"title": "SES-of-origin", "orient": "none", "legendX": 1015.2, "legendY": 208, "symbolType": "stroke", "symbolSize": 225, "symbolStrokeWidth": 1.6, "symbolOffset": -11, "labelOffset": 16, "rowPadding": 6.5, "titlePadding": 11}}}},
 {"mark": {"type": "circle", "size": 10, "color": "#111111", "opacity": 1}}
]
},
{
"width": 468.9, "height": 286.6,
"title": {"text": "Cali, Colombia"},
"data": {"name": "cal"},
"encoding": {
 "x": {"field": "x", "type": "quantitative", "title": "Traveled distance (m)", "scale": {"domain": [-125, 13625], "nice": false, "zero": false},
  "axis": {"values": [0, 2500, 5000, 7500, 10000, 12500], "format": "d", "labelExpr": "datum.value % 5000 === 0 ? datum.label : ''",
   "gridColor": {"condition": {"test": "datum.value % 5000 === 0", "value": "#c4c4c4"}, "value": "#dedede"},
   "gridWidth": {"condition": {"test": "datum.value % 5000 === 0", "value": 1.3}, "value": 0.8}}},
 "y": {"field": "y", "type": "quantitative", "title": "Socioeconomic status", "scale": {"domain": [1.711, 5.916], "nice": false, "zero": false},
  "axis": {"values": [2, 2.5, 3, 3.5, 4, 4.5, 5, 5.5], "format": "d", "labelExpr": "datum.value % 1 === 0 ? datum.label : ''",
   "gridColor": {"condition": {"test": "datum.value % 1 === 0", "value": "#c4c4c4"}, "value": "#dedede"},
   "gridWidth": {"condition": {"test": "datum.value % 1 === 0", "value": 1.3}, "value": 0.8}}}
},
"layer": [
 {"mark": {"type": "area", "opacity": 0.2}, "encoding": {"y": {"field": "lo", "type": "quantitative", "title": "Socioeconomic status"}, "y2": {"field": "hi"},
  "fill": {"field": "s", "type": "nominal", "scale": {"domain": ["Low", "Middle", "High", "-"], "range": ["#66c2a5", "#fc8d62", "#8da0cb", "#ffffff"]},
   "legend": {"title": ["IC(95%) of", "SES-of-origin"], "values": ["Low", "Middle", "High"], "orient": "none", "legendX": 1015.2, "legendY": 344, "symbolType": "square", "symbolSize": 576, "symbolOpacity": 0.25, "symbolStrokeWidth": 0, "symbolOffset": -13, "labelOffset": 11, "rowPadding": 1.5, "titlePadding": 7, "titleLineHeight": 18}}}},
 {"mark": {"type": "line", "strokeWidth": 1.6}, "encoding": {
  "color": {"field": "s", "type": "nominal", "scale": {"domain": ["Low", "Middle", "High"], "range": ["#4fbb97", "#f7855c", "#8497c8"]},
   "legend": {"title": "SES-of-origin", "orient": "none", "legendX": 1015.2, "legendY": 208, "symbolType": "stroke", "symbolSize": 225, "symbolStrokeWidth": 1.6, "symbolOffset": -11, "labelOffset": 16, "rowPadding": 6.5, "titlePadding": 11}}}},
 {"mark": {"type": "circle", "size": 10, "color": "#111111", "opacity": 1}}
]
}
]
},
{
"spacing": 14.8,
"hconcat": [
{
"width": 457.7, "height": 288.3,
"title": {"text": "Mexico City, Mexico"},
"data": {"name": "mex"},
"encoding": {
 "x": {"field": "x", "type": "quantitative", "title": "Traveled distance (m)", "scale": {"domain": [-900, 29900], "nice": false, "zero": false},
  "axis": {"values": [0, 5000, 10000, 15000, 20000, 25000], "format": "d", "labelExpr": "datum.value % 10000 === 0 ? datum.label : ''",
   "gridColor": {"condition": {"test": "datum.value % 10000 === 0", "value": "#c4c4c4"}, "value": "#dedede"},
   "gridWidth": {"condition": {"test": "datum.value % 10000 === 0", "value": 1.3}, "value": 0.8}}},
 "y": {"field": "y", "type": "quantitative", "title": "Socioeconomic status", "scale": {"domain": [0.526, 0.9263], "nice": false, "zero": false},
  "axis": {"values": [0.55, 0.6, 0.65, 0.7, 0.75, 0.8, 0.85, 0.9], "format": ".1f", "labelExpr": "abs(datum.value * 10 - round(datum.value * 10)) < 0.001 ? datum.label : ''",
   "gridColor": {"condition": {"test": "abs(datum.value * 10 - round(datum.value * 10)) < 0.001", "value": "#c4c4c4"}, "value": "#dedede"},
   "gridWidth": {"condition": {"test": "abs(datum.value * 10 - round(datum.value * 10)) < 0.001", "value": 1.3}, "value": 0.8}}}
},
"layer": [
 {"mark": {"type": "area", "opacity": 0.2}, "encoding": {"y": {"field": "lo", "type": "quantitative", "title": "Socioeconomic status"}, "y2": {"field": "hi"},
  "fill": {"field": "s", "type": "nominal", "scale": {"domain": ["Low", "Middle", "High", "-"], "range": ["#66c2a5", "#fc8d62", "#8da0cb", "#ffffff"]},
   "legend": {"title": ["IC(95%) of", "SES-of-origin"], "values": ["Low", "Middle", "High"], "orient": "none", "legendX": 1015.2, "legendY": 344, "symbolType": "square", "symbolSize": 576, "symbolOpacity": 0.25, "symbolStrokeWidth": 0, "symbolOffset": -13, "labelOffset": 11, "rowPadding": 1.5, "titlePadding": 7, "titleLineHeight": 18}}}},
 {"mark": {"type": "line", "strokeWidth": 1.6}, "encoding": {
  "color": {"field": "s", "type": "nominal", "scale": {"domain": ["Low", "Middle", "High"], "range": ["#4fbb97", "#f7855c", "#8497c8"]},
   "legend": {"title": "SES-of-origin", "orient": "none", "legendX": 1015.2, "legendY": 208, "symbolType": "stroke", "symbolSize": 225, "symbolStrokeWidth": 1.6, "symbolOffset": -11, "labelOffset": 16, "rowPadding": 6.5, "titlePadding": 11}}}},
 {"mark": {"type": "circle", "size": 10, "color": "#111111", "opacity": 1}}
]
},
{
"width": 458.6, "height": 288.3,
"title": {"text": "Santiago de Chile, Chile"},
"data": {"name": "san"},
"encoding": {
 "x": {"field": "x", "type": "quantitative", "title": "Traveled distance (m)", "scale": {"domain": [-275, 16775], "nice": false, "zero": false},
  "axis": {"values": [0, 2500, 5000, 7500, 10000, 12500, 15000], "format": "d", "labelExpr": "datum.value % 5000 === 0 ? datum.label : ''",
   "gridColor": {"condition": {"test": "datum.value % 5000 === 0", "value": "#c4c4c4"}, "value": "#dedede"},
   "gridWidth": {"condition": {"test": "datum.value % 5000 === 0", "value": 1.3}, "value": 0.8}}},
 "y": {"field": "y", "type": "quantitative", "title": "Socioeconomic status", "scale": {"domain": [0.4566, 0.8359], "nice": false, "zero": false},
  "axis": {"values": [0.5, 0.55, 0.6, 0.65, 0.7, 0.75, 0.8], "format": ".1f", "labelExpr": "abs(datum.value * 10 - round(datum.value * 10)) < 0.001 ? datum.label : ''",
   "gridColor": {"condition": {"test": "abs(datum.value * 10 - round(datum.value * 10)) < 0.001", "value": "#c4c4c4"}, "value": "#dedede"},
   "gridWidth": {"condition": {"test": "abs(datum.value * 10 - round(datum.value * 10)) < 0.001", "value": 1.3}, "value": 0.8}}}
},
"layer": [
 {"mark": {"type": "area", "opacity": 0.2}, "encoding": {"y": {"field": "lo", "type": "quantitative", "title": "Socioeconomic status"}, "y2": {"field": "hi"},
  "fill": {"field": "s", "type": "nominal", "scale": {"domain": ["Low", "Middle", "High", "-"], "range": ["#66c2a5", "#fc8d62", "#8da0cb", "#ffffff"]},
   "legend": {"title": ["IC(95%) of", "SES-of-origin"], "values": ["Low", "Middle", "High"], "orient": "none", "legendX": 1015.2, "legendY": 344, "symbolType": "square", "symbolSize": 576, "symbolOpacity": 0.25, "symbolStrokeWidth": 0, "symbolOffset": -13, "labelOffset": 11, "rowPadding": 1.5, "titlePadding": 7, "titleLineHeight": 18}}}},
 {"mark": {"type": "line", "strokeWidth": 1.6}, "encoding": {
  "color": {"field": "s", "type": "nominal", "scale": {"domain": ["Low", "Middle", "High"], "range": ["#4fbb97", "#f7855c", "#8497c8"]},
   "legend": {"title": "SES-of-origin", "orient": "none", "legendX": 1015.2, "legendY": 208, "symbolType": "stroke", "symbolSize": 225, "symbolStrokeWidth": 1.6, "symbolOffset": -11, "labelOffset": 16, "rowPadding": 6.5, "titlePadding": 11}}}},
 {"mark": {"type": "circle", "size": 10, "color": "#111111", "opacity": 1}}
]
}
]
}
]
}
